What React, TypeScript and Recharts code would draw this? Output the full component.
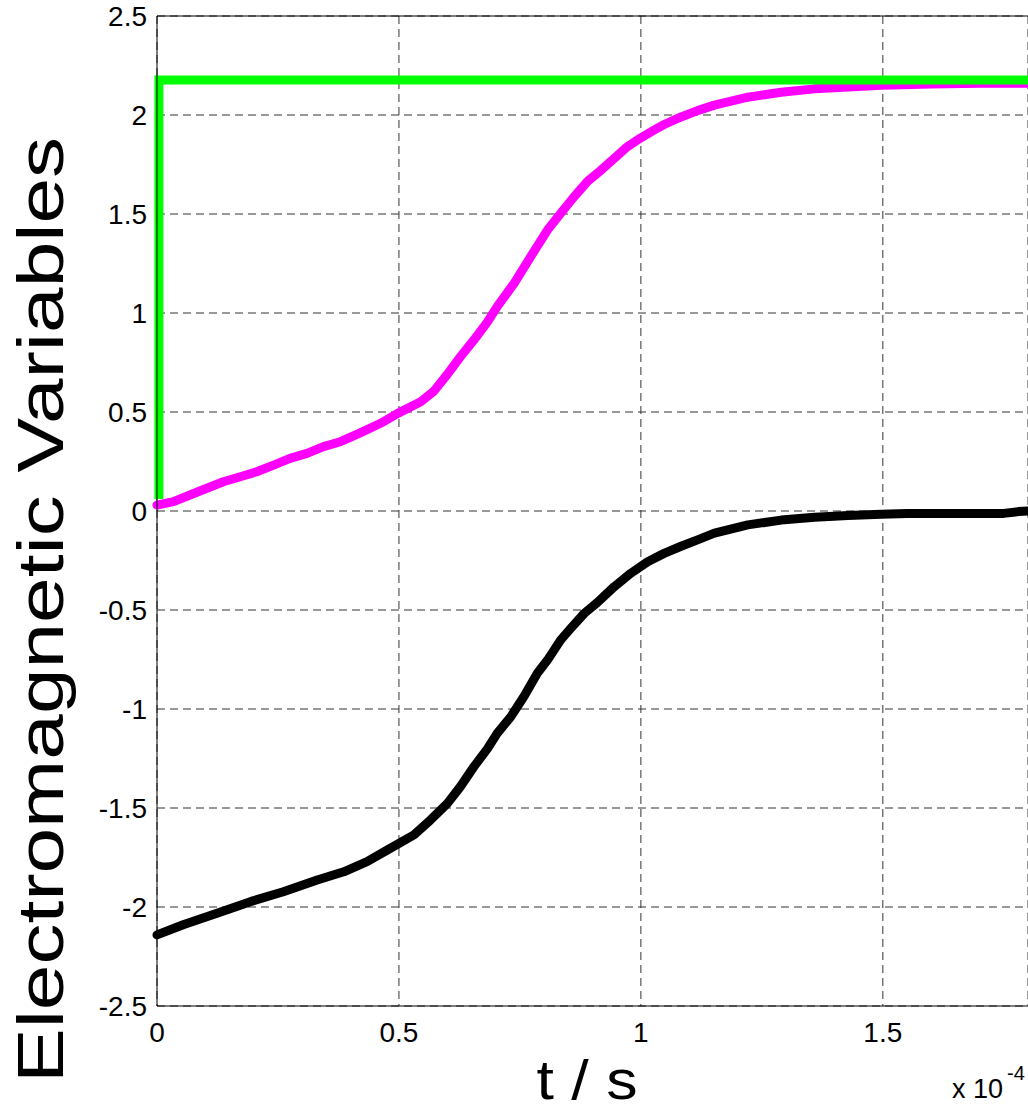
import { LineChart, Line, XAxis, YAxis, CartesianGrid, ReferenceLine, Label } from 'recharts'

// time axis in units of 1e-4 s
const xTicks = [0, 0.5, 1, 1.5]
const yTicks = [-2.5, -2, -1.5, -1, -0.5, 0, 0.5, 1, 1.5, 2, 2.5]

// reference (green step)
const refT = [0.004, 0.004, 1.8]
const refV = [0.06, 2.177, 2.177]

// magenta curve
const magT = [0, 0.034, 0.068, 0.103, 0.137, 0.172, 0.206, 0.241, 0.275, 0.31, 0.344, 0.379, 0.42, 0.462, 0.4975, 0.545, 0.572, 0.6, 0.627, 0.655, 0.683, 0.703, 0.738, 0.772, 0.807, 0.834, 0.862, 0.89, 0.917, 0.945, 0.972, 1.0, 1.028, 1.048, 1.083, 1.117, 1.152, 1.221, 1.29, 1.359, 1.428, 1.497, 1.6, 1.7, 1.8]
const magV = [0.03, 0.047, 0.081, 0.115, 0.148, 0.173, 0.198, 0.232, 0.266, 0.291, 0.325, 0.35, 0.395, 0.443, 0.493, 0.552, 0.605, 0.69, 0.779, 0.864, 0.955, 1.032, 1.15, 1.284, 1.419, 1.503, 1.587, 1.665, 1.72, 1.781, 1.84, 1.885, 1.925, 1.952, 1.99, 2.022, 2.05, 2.09, 2.115, 2.132, 2.142, 2.15, 2.157, 2.16, 2.16]

// black curve
const blkT = [0, 0.054, 0.124, 0.193, 0.261, 0.331, 0.386, 0.434, 0.476, 0.531, 0.565, 0.6, 0.627, 0.655, 0.683, 0.703, 0.731, 0.758, 0.786, 0.807, 0.834, 0.855, 0.883, 0.91, 0.945, 0.979, 1.014, 1.048, 1.083, 1.117, 1.152, 1.221, 1.29, 1.359, 1.428, 1.497, 1.55, 1.75, 1.78, 1.8]
const blkV = [-2.141, -2.09, -2.032, -1.973, -1.923, -1.864, -1.822, -1.771, -1.712, -1.636, -1.561, -1.477, -1.392, -1.291, -1.2, -1.123, -1.04, -0.938, -0.82, -0.753, -0.652, -0.593, -0.517, -0.462, -0.382, -0.315, -0.256, -0.214, -0.178, -0.146, -0.112, -0.07, -0.046, -0.032, -0.023, -0.016, -0.013, -0.012, -0.003, 0]

const toRows = (ts: number[], vs: number[]) => ts.map((t, i) => ({ t, v: vs[i] }))

const refData = toRows(refT, refV)
const magData = toRows(magT, magV)
const blkData = toRows(blkT, blkV)

const FONT = '"Liberation Sans", Arial, Helvetica, sans-serif'

const YTick = ({ x, y, payload }: any) => (
  <text x={x} y={y} dy={10} textAnchor="end" fontSize={28} fontFamily={FONT} fill="#000">
    {String(payload.value)}
  </text>
)

const XTick = ({ x, y, payload }: any) => (
  <text x={x} y={y} dy={36} textAnchor="middle" fontSize={28} fontFamily={FONT} fill="#000">
    {String(payload.value)}
  </text>
)

export default function App() {
  return (
    <div style={{ position: 'absolute', left: 0, top: 0, width: 1028, height: 1111, background: '#fff' }}>
      <LineChart width={1028} height={1111} margin={{ top: 16, right: 0, bottom: 0, left: 0 }}>
        <CartesianGrid stroke="#333" strokeDasharray="8 5" strokeWidth={1} />
        <XAxis
          dataKey="t"
          type="number"
          domain={[0, 1.8]}
          ticks={xTicks}
          height={105}
          tickSize={0}
          tickMargin={0}
          tick={<XTick />}
          axisLine={{ stroke: '#000', strokeWidth: 1 }}
          allowDuplicatedCategory={false}
        >
          <Label
            content={() => (
              <g fontFamily={FONT} fill="#000">
                <text x={587} y={1099} textAnchor="middle" fontSize={56} textLength={101} lengthAdjust="spacingAndGlyphs">t / s</text>
                <text x={952} y={1098} fontSize={27}>x 10</text>
                <text x={1007} y={1080} fontSize={20}>-4</text>
              </g>
            )}
          />
        </XAxis>
        <YAxis
          type="number"
          domain={[-2.5, 2.5]}
          ticks={yTicks}
          width={157}
          tickSize={0}
          tickMargin={10}
          tick={<YTick />}
          axisLine={{ stroke: '#000', strokeWidth: 1 }}
        >
          <Label
            content={() => (
              <text
                x={63}
                y={610}
                transform="rotate(-90 63 610)"
                textAnchor="middle"
                fontSize={64}
                fontFamily={FONT}
                fill="#000"
                textLength={946}
                lengthAdjust="spacingAndGlyphs"
              >
                Electromagnetic Variables
              </text>
            )}
          />
        </YAxis>
        <ReferenceLine y={2.5} stroke="#000" strokeWidth={1} />
        <Line
          data={magData}
          dataKey="v"
          type="linear"
          stroke="#ff00ff"
          strokeWidth={9}
          strokeLinejoin="round"
          strokeLinecap="round"
          dot={false}
          isAnimationActive={false}
        />
        <Line
          data={blkData}
          dataKey="v"
          type="linear"
          stroke="#000"
          strokeWidth={9}
          strokeLinejoin="round"
          strokeLinecap="round"
          dot={false}
          isAnimationActive={false}
        />
        <Line
          data={refData}
          dataKey="v"
          type="linear"
          stroke="#00ff00"
          strokeWidth={9}
          strokeLinecap="butt"
          strokeLinejoin="miter"
          dot={false}
          isAnimationActive={false}
        />
      </LineChart>
    </div>
  )
}
